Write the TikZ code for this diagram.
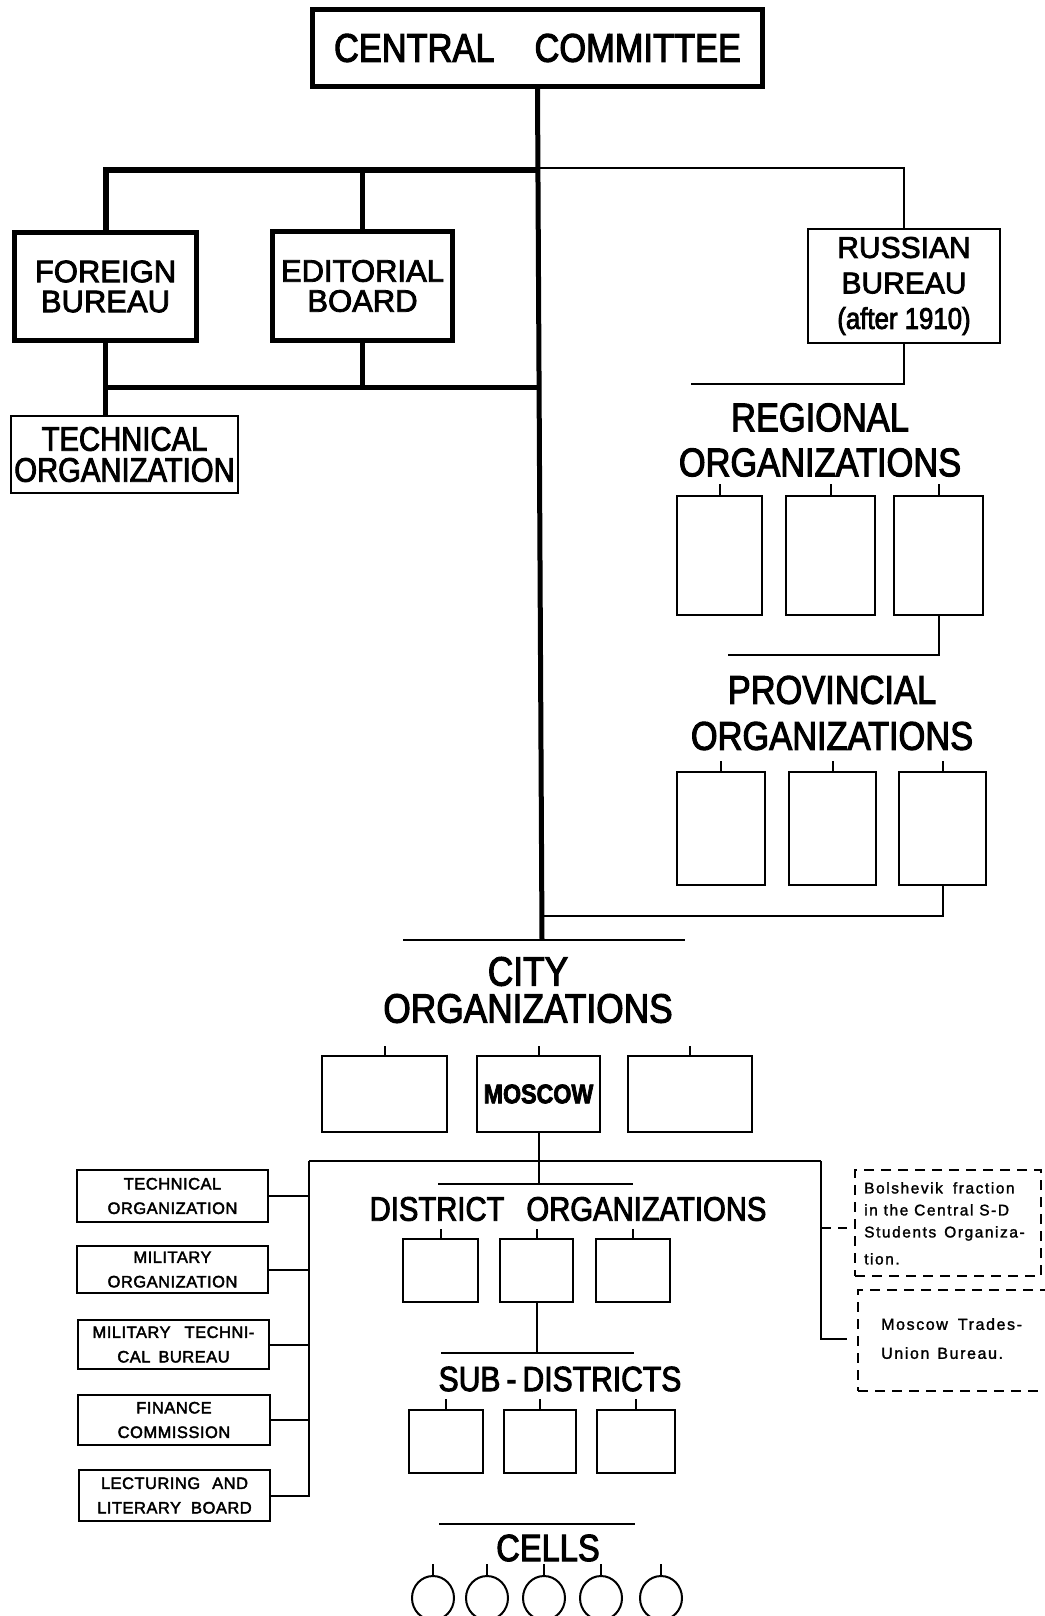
\documentclass[tikz,border=0pt]{standalone}
\usepackage{fontspec}
\setmainfont{Liberation Sans}
\newfontfamily\cnd[FakeStretch=0.86,FakeBold=2.6]{Liberation Sans}
\newfontfamily\lbl[FakeBold=2.6]{Liberation Sans}
\newfontfamily\fsm[LetterSpace=3,FakeBold=2.4]{Liberation Sans}
\newfontfamily\fnt[LetterSpace=10,FakeBold=1.6]{Liberation Sans}
\usetikzlibrary{shapes.geometric}
\begin{document}
\begin{tikzpicture}[x=1pt,y=-1pt,
  heavy/.style={line width=5pt},
  lite/.style={line width=2pt},
  dashy/.style={line width=1.6pt, dash pattern=on 10pt off 7pt},
  thickbox/.style={draw, line width=5pt, inner sep=0pt, align=center},
  thinbox/.style={draw, line width=2pt, inner sep=0pt, align=center},
  dbox/.style={draw, line width=1.6pt, dash pattern=on 10pt off 7pt, inner sep=0pt},
  head/.style={inner sep=0pt, align=center},
  note/.style={inner sep=0pt, align=left},
  smalltxt/.style={font={\fsm\fontsize{16.5}{24.5}\selectfont}},
  cell/.style={draw, ellipse, line width=2pt, minimum width=42pt, minimum height=44pt, inner sep=0pt}
]
\fill[white] (0,0) rectangle (1044,1616);
\useasboundingbox (0,0) rectangle (1044,1616);

% ---------- top part ----------
\node[thickbox, minimum width=450, minimum height=77,
  font={\cnd\fontsize{40}{40}\selectfont}] (cc) at (537.5,48)
  {CENTRAL\hspace{40pt}COMMITTEE};
\node[thickbox, minimum width=182, minimum height=108,
  font={\lbl\fontsize{31}{30}\selectfont}] (fb) at (105.5,286.5)
  {FOREIGN\\BUREAU};
\node[thickbox, minimum width=180, minimum height=109,
  font={\lbl\fontsize{31}{30}\selectfont}] (eb) at (362.5,286)
  {EDITORIAL\\BOARD};
\node[thinbox, minimum width=227, minimum height=77,
  font={\cnd\fontsize{34}{31}\selectfont}] (tech1) at (124.5,454.5)
  {TECHNICAL\\ORGANIZATION};
\node[thinbox, minimum width=192, minimum height=114,
  font={\lbl\fontsize{30}{35.5}\selectfont}] (rb) at (904,286)
  {RUSSIAN\\BUREAU\\{\cnd\fontsize{30}{35.5}\selectfont (after 1910)}};

\coordinate (ul) at (107,170);
\coordinate (ur) at (539,170);
\coordinate (lb) at (540,387);
\coordinate (rj) at (539,168);
\coordinate (tb) at (542,940);

% trunk
\draw[heavy] (cc.south) -- (tb);
% upper thick bar
\draw[line width=6pt] (fb.north) -- (fb.north |- ul) -- (ur);
\draw[heavy] (eb.north) -- (eb.north |- ul);
% lower thick bar
\draw[heavy] (fb.south) -- (fb.south |- lb) -- (lb);
\draw[heavy] (eb.south) -- (eb.south |- lb);
\draw[heavy] (fb.south |- lb) -- (fb.south |- tech1.north);
% to russian bureau
\draw[lite] (rj) -| (rb.north);

% ---------- regional ----------
\coordinate (rl) at (691,384);
\draw[lite] (rb.south) |- (rl);
\node[head, font={\cnd\fontsize{40}{45}\selectfont}] (regh) at (820,440)
  {REGIONAL\\ORGANIZATIONS};
\node[thinbox, minimum width=85, minimum height=119] (r1) at (719.5,555.5) {};
\node[thinbox, minimum width=89, minimum height=119] (r2) at (830.5,555.5) {};
\node[thinbox, minimum width=89, minimum height=119] (r3) at (938.5,555.5) {};
\foreach \b in {r1,r2,r3} \draw[lite] (\b.north) -- ++(0,-11);
\coordinate (pl) at (728,655);
\draw[lite] (r3.south) |- (pl);

% ---------- provincial ----------
\node[head, font={\cnd\fontsize{40}{46}\selectfont}] (ph) at (832,713)
  {PROVINCIAL\\ORGANIZATIONS};
\node[thinbox, minimum width=88, minimum height=113] (p1) at (721,828.5) {};
\node[thinbox, minimum width=87, minimum height=113] (p2) at (832.5,828.5) {};
\node[thinbox, minimum width=87, minimum height=113] (p3) at (942.5,828.5) {};
\foreach \b in {p1,p2,p3} \draw[lite] (\b.north) -- ++(0,-10);
\coordinate (tj) at (542,916);
\draw[lite] (p3.south) |- (tj);

% ---------- city ----------
\coordinate (ch1) at (403,940);
\coordinate (ch2) at (685,940);
\draw[lite] (ch1) -- (ch2);
\node[head, font={\cnd\fontsize{41}{37}\selectfont}] (cith) at (528,990)
  {CITY\\ORGANIZATIONS};
\node[thinbox, minimum width=125, minimum height=76] (c1) at (384.5,1094) {};
\node[thinbox, minimum width=123, minimum height=76,
  font={\cnd\bfseries\fontsize{27}{27}\selectfont}] (c2) at (538.5,1094)
  {\raisebox{-4pt}{MOSCOW}};
\node[thinbox, minimum width=124, minimum height=76] (c3) at (690,1094) {};
\foreach \b in {c1,c2,c3} \draw[lite] (\b.north) -- ++(0,-9);

% buses
\coordinate (bl) at (309,1161);
\coordinate (br) at (821,1161);
\coordinate (dh1) at (438,1184);
\coordinate (dh2) at (633,1184);
\draw[lite] (bl) -- (br);
\draw[lite] (c2.south) -- (c2.south |- dh1);
\draw[lite] (dh1) -- (dh2);

% ---------- left side boxes ----------
\node[thinbox, smalltxt, minimum width=191, minimum height=52] (s1) at (172.5,1196)
  {TECHNICAL\\ORGANIZATION};
\node[thinbox, smalltxt, minimum width=191, minimum height=47] (s2) at (172.5,1269.5)
  {MILITARY\\ORGANIZATION};
\node[thinbox, smalltxt, minimum width=191, minimum height=49] (s3) at (173.5,1344.5)
  {MILITARY\hspace{14pt}TECHNI-\\CAL\hspace{8pt}BUREAU};
\node[thinbox, smalltxt, minimum width=192, minimum height=50] (s4) at (174,1420)
  {FINANCE\\COMMISSION};
\node[thinbox, smalltxt, minimum width=191, minimum height=51] (s5) at (174.5,1495.5)
  {LECTURING\hspace{12pt}AND\\LITERARY\hspace{10pt}BOARD};
\draw[lite] (bl) -- (bl |- s5.east) -- (s5.east);
\foreach \b in {s1,s2,s3,s4} \draw[lite] (\b.east) -- (\b.east -| bl);

% ---------- right side dashed boxes ----------
\node[dbox, minimum width=186, minimum height=106] (bolsh) at (948,1223) {};
\node[note, font={\fnt\fontsize{15.5}{22}\selectfont}, anchor=north west] (bolshtxt) at (864,1182)
  {Bolshevik\hspace{10pt}fraction\\in the Central S-D\\Students\hspace{8pt}Organiza-\\[5pt]tion.};
\node[dbox, minimum width=190, minimum height=101] (tub) at (953,1340.5) {};
\node[note, font={\fnt\fontsize{16}{29}\selectfont}, anchor=north west] (tubtxt) at (881,1318)
  {Moscow\hspace{10pt}Trades-\\Union\hspace{8pt}Bureau.};
\coordinate (bj) at (821,1228);
\coordinate (bend) at (847,1228);
\coordinate (tend) at (847,1339);
\draw[lite] (br) |- (tend);
\draw[dashy] (bj) -- (bend);

% ---------- district ----------
\node[head, font={\cnd\fontsize{34}{34}\selectfont}] (dth) at (568,1209)
  {DISTRICT\hspace{22pt}ORGANIZATIONS};
\node[thinbox, minimum width=75, minimum height=63] (d1) at (440.5,1270.5) {};
\node[thinbox, minimum width=73, minimum height=63] (d2) at (536.5,1270.5) {};
\node[thinbox, minimum width=74, minimum height=63] (d3) at (633,1270.5) {};
\foreach \b in {d1,d2,d3} \draw[lite] (\b.north) -- ++(0,-9);
\coordinate (sh1) at (441,1353);
\coordinate (sh2) at (634,1353);
\draw[lite] (d2.south) -- (d2.south |- sh1);
\draw[lite] (sh1) -- (sh2);

% ---------- sub-districts ----------
\node[head, font={\cnd\fontsize{35}{35}\selectfont}] (sdh) at (560,1379)
  {SUB\hspace{6pt}-\hspace{6pt}DISTRICTS};
\node[thinbox, minimum width=74, minimum height=63] (sb1) at (446,1441.5) {};
\node[thinbox, minimum width=72, minimum height=63] (sb2) at (540,1441.5) {};
\node[thinbox, minimum width=78, minimum height=63] (sb3) at (636,1441.5) {};
\foreach \b in {sb1,sb2,sb3} \draw[lite] (\b.north) -- ++(0,-10);

% ---------- cells ----------
\coordinate (clh1) at (439,1524);
\coordinate (clh2) at (635,1524);
\draw[lite] (clh1) -- (clh2);
\node[head, font={\cnd\fontsize{38}{38}\selectfont}] (cellsh) at (548,1548)
  {CELLS};
\node[cell] (e1) at (433,1598) {};
\node[cell] (e2) at (487,1598) {};
\node[cell] (e3) at (544,1598) {};
\node[cell] (e4) at (601,1598) {};
\node[cell] (e5) at (661,1598) {};
\foreach \b in {e1,e2,e3,e4,e5} \draw[lite] (\b.north) -- ++(0,-11);
\end{tikzpicture}
\end{document}
